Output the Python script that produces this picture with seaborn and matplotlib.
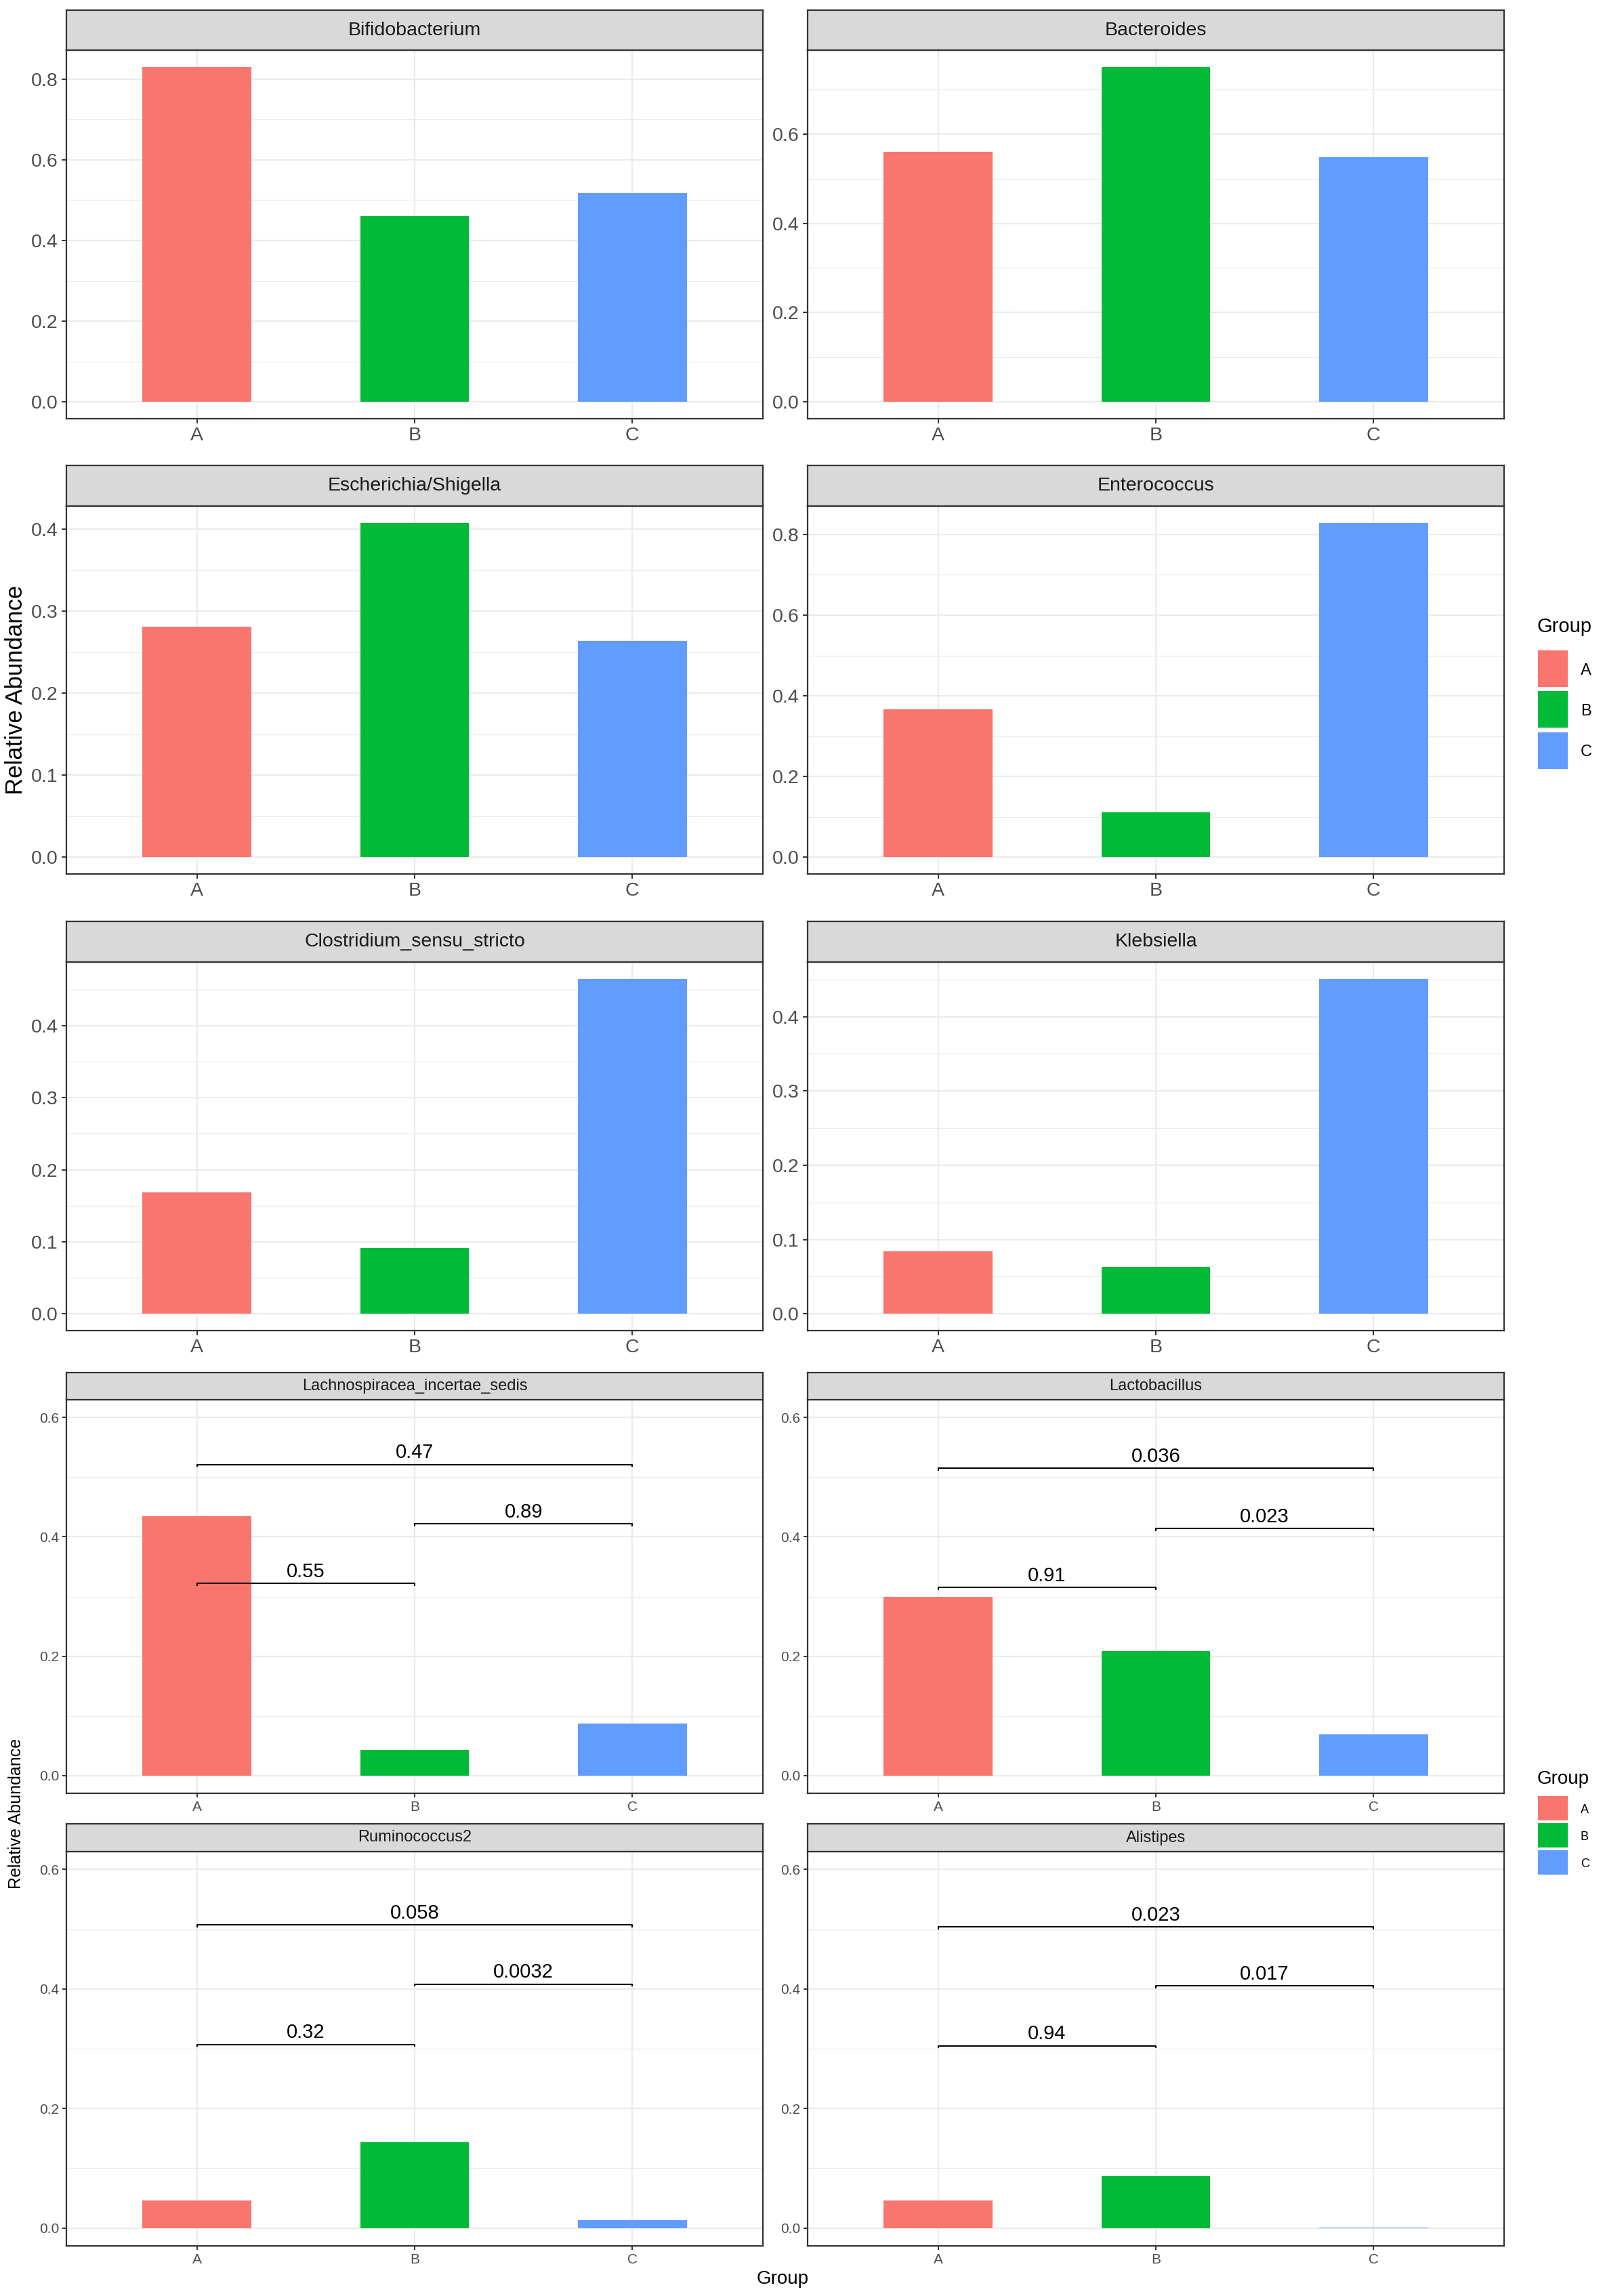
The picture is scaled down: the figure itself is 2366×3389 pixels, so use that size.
import numpy as np
import pandas as pd
import matplotlib
matplotlib.use("Agg")
import matplotlib.pyplot as plt
import seaborn as sns
from matplotlib import font_manager
from matplotlib.ticker import MultipleLocator, FormatStrFormatter
from matplotlib.patches import Rectangle

# ---------------- data ----------------
groups = ["A", "B", "C"]
palette = ["#F8766D", "#00BA38", "#619CFF"]

top_taxa = ["Bifidobacterium", "Bacteroides", "Escherichia/Shigella",
            "Enterococcus", "Clostridium_sensu_stricto", "Klebsiella"]
bifidobacterium = [0.830, 0.460, 0.517]
bacteroides = [0.560, 0.750, 0.548]
escherichia_shigella = [0.281, 0.408, 0.264]
enterococcus = [0.367, 0.111, 0.829]
clostridium_ss = [0.169, 0.091, 0.465]
klebsiella = [0.084, 0.063, 0.451]
top_values = [bifidobacterium, bacteroides, escherichia_shigella,
              enterococcus, clostridium_ss, klebsiella]
top_steps = [0.2, 0.2, 0.1, 0.2, 0.1, 0.1]

bottom_taxa = ["Lachnospiracea_incertae_sedis", "Lactobacillus",
               "Ruminococcus2", "Alistipes"]
lachnospiracea = [0.4345, 0.043, 0.087]
lactobacillus = [0.299, 0.2085, 0.0687]
ruminococcus2 = [0.0464, 0.143, 0.0132]
alistipes = [0.0464, 0.0864, 0.001]
bottom_values = [lachnospiracea, lactobacillus, ruminococcus2, alistipes]

comparisons = [("A", "B"), ("B", "C"), ("A", "C")]
lachnospiracea_p = ["0.55", "0.89", "0.47"]
lachnospiracea_py = [0.322, 0.422, 0.5215]
lactobacillus_p = ["0.91", "0.023", "0.036"]
lactobacillus_py = [0.315, 0.414, 0.515]
ruminococcus2_p = ["0.32", "0.0032", "0.058"]
ruminococcus2_py = [0.307, 0.408, 0.507]
alistipes_p = ["0.94", "0.017", "0.023"]
alistipes_py = [0.305, 0.405, 0.504]
bottom_p = [lachnospiracea_p, lactobacillus_p, ruminococcus2_p, alistipes_p]
bottom_py = [lachnospiracea_py, lactobacillus_py, ruminococcus2_py, alistipes_py]
bottom_ymax = 0.6

# ---------------- style ----------------
sns.set_theme(style="white")
names = {f.name for f in font_manager.fontManager.ttflist}
REG = "Liberation Sans" if "Liberation Sans" in names else "DejaVu Sans"
NARROW = "Liberation Sans Narrow" if "Liberation Sans Narrow" in names else None
plt.rcParams["font.family"] = [REG, "DejaVu Sans"]
TOPFAM = [NARROW, REG, "DejaVu Sans"] if NARROW else [REG, "DejaVu Sans"]
TOPSZ = 22 if NARROW else 20.5

W, H = 2366, 3389
fig = plt.figure(figsize=(W / 100, H / 100), dpi=100)
fig.patch.set_facecolor("white")

cols = [(98, 1126), (1192, 2220)]
top_rows = [(15, 74, 618), (687, 747, 1290), (1360, 1420, 1964)]
bot_rows = [(2026, 2066, 2647), (2692, 2733, 3315)]

GRID = "#EBEBEB"
BORDER = "#333333"


def make_panel(col, row, title, vals, step, ylim, fam, tsize, ssize, ticklen):
    x0, x1 = col
    st, sb, pb = row
    ax = fig.add_axes([x0 / W, 1 - pb / H, (x1 - x0) / W, (pb - sb) / H])
    sx = fig.add_axes([x0 / W, 1 - sb / H, (x1 - x0) / W, (sb - st) / H])
    sx.set_facecolor("#D9D9D9")
    sx.set_xticks([]); sx.set_yticks([])
    for s in sx.spines.values():
        s.set_color(BORDER); s.set_linewidth(1.6)
    sx.text(0.5, 0.5, title, transform=sx.transAxes, ha="center", va="center",
            fontsize=ssize, family=fam, color="#1A1A1A")

    df = pd.DataFrame({"Group": groups, "value": vals})
    sns.barplot(data=df, x="Group", y="value", hue="Group", palette=palette,
                hue_order=groups, order=groups, width=0.5, saturation=1,
                errorbar=None, legend=False, ax=ax, edgecolor="none", linewidth=0)
    ax.set_xlim(-0.6, 2.6)
    ax.set_ylim(*ylim)
    ax.set_xlabel(""); ax.set_ylabel("")
    ax.yaxis.set_major_locator(MultipleLocator(step))
    ax.yaxis.set_minor_locator(MultipleLocator(step / 2))
    ax.yaxis.set_major_formatter(FormatStrFormatter("%.1f"))
    ax.set_axisbelow(True)
    ax.grid(True, which="major", axis="both", color=GRID, linewidth=1.6)
    ax.grid(True, which="minor", axis="y", color=GRID, linewidth=0.9)
    ax.tick_params(which="major", length=ticklen, width=1.4, color=BORDER,
                   labelcolor="#4D4D4D", labelsize=tsize, pad=4,
                   left=True, bottom=True)
    ax.tick_params(which="minor", length=0)
    for lab in ax.get_xticklabels() + ax.get_yticklabels():
        lab.set_family(fam)
    for s in ax.spines.values():
        s.set_visible(True); s.set_color(BORDER); s.set_linewidth(1.6)
    ax.set_facecolor("white")
    return ax


# top block: 3 x 2 facets, free scales
for i, (title, vals, step) in enumerate(zip(top_taxa, top_values, top_steps)):
    M = max(vals)
    make_panel(cols[i % 2], top_rows[i // 2], title, vals, step,
               (-0.05 * M, 1.05 * M), TOPFAM, TOPSZ, TOPSZ, 5)

# bottom block: 2 x 2 facets with comparisons
for i, (title, vals) in enumerate(zip(bottom_taxa, bottom_values)):
    ax = make_panel(cols[i % 2], bot_rows[i // 2], title, vals, 0.2,
                    (-0.05 * bottom_ymax, 1.05 * bottom_ymax), [REG, "DejaVu Sans"],
                    15, 17, 4)
    for (g1, g2), lab, yv in zip(comparisons, bottom_p[i], bottom_py[i]):
        xa, xb = groups.index(g1), groups.index(g2)
        tip = 0.004
        ax.plot([xa, xa, xb, xb], [yv - tip, yv, yv, yv - tip], color="black",
                linewidth=1.5, solid_capstyle="butt", zorder=5)
        ax.text((xa + xb) / 2, yv + 0.004, lab, ha="center", va="bottom",
                fontsize=21, color="black", zorder=6)

# overlay for shared labels and legends (pixel coordinates)
ov = fig.add_axes([0, 0, 1, 1], zorder=10)
ov.set_xlim(0, W); ov.set_ylim(H, 0)
ov.axis("off"); ov.patch.set_alpha(0)

ov.text(24, 1018, "Relative Abundance", rotation=90, ha="center", va="center",
        fontsize=25, color="black")
ov.text(24, 2677, "Relative Abundance", rotation=90, ha="center", va="center",
        fontsize=18, color="black")
ov.text(1155, 3371, "Group", ha="center", va="baseline", fontsize=20, color="black")

# legend (top block)
ov.text(2269, 933, "Group", ha="left", va="baseline", fontsize=21, color="black")
for k, (g, c) in enumerate(zip(groups, palette)):
    y0 = [960, 1020, 1081][k]
    ov.add_patch(Rectangle((2270, y0), 44, 54, facecolor=c, edgecolor="none"))
    ov.text(2333, y0 + 27 + 8.5, g, ha="left", va="baseline", fontsize=17, color="black")

# legend (bottom block)
ov.text(2269, 2633, "Group", ha="left", va="baseline", fontsize=20, color="black")
for k, (g, c) in enumerate(zip(groups, palette)):
    y0 = [2651, 2691, 2731][k]
    ov.add_patch(Rectangle((2270, y0), 44, 36, facecolor=c, edgecolor="none"))
    ov.text(2333, y0 + 18 + 6.5, g, ha="left", va="baseline", fontsize=13, color="black")

fig.savefig("out.png", dpi=100, facecolor="white")
